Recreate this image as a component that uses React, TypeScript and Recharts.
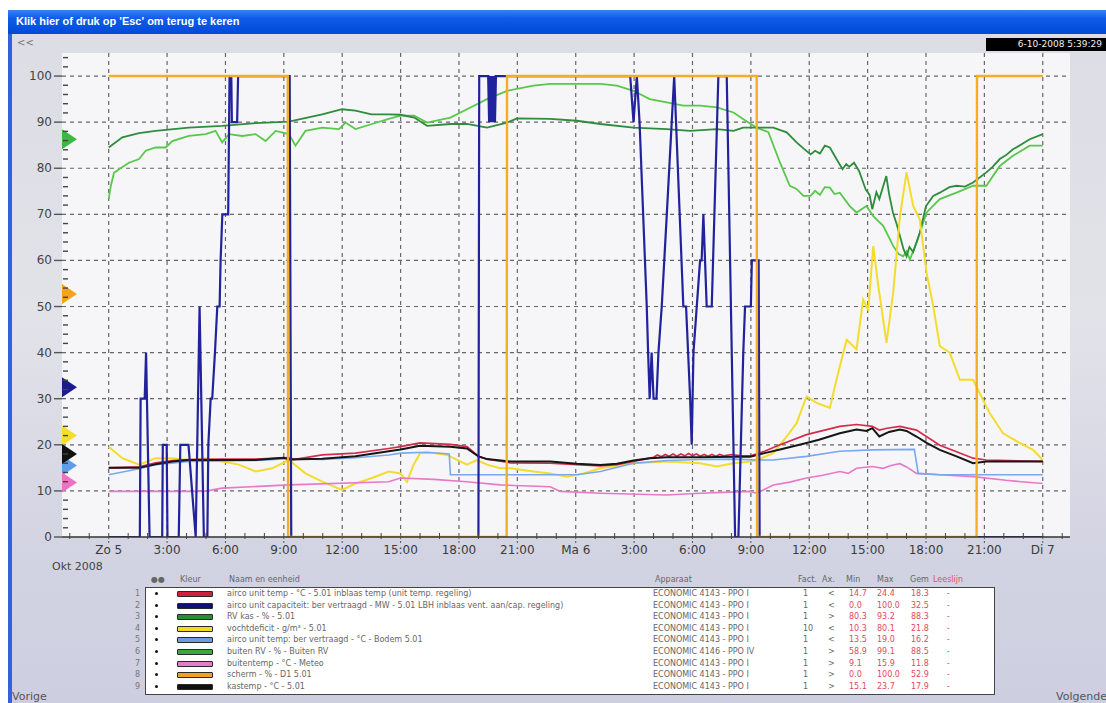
import { CartesianGrid, Line, LineChart, ReferenceDot, XAxis, YAxis } from "recharts"

// time in hours from "Zo 5" 0:00, value in axis units
const aircoTemp = [
  [0, 15.0], [1.56, 15.2], [2.41, 16.1], [3.27, 16.6], [4.12, 16.8], [5.83, 16.9], [7.55, 16.9],
  [9.26, 17.2], [9.5, 16.8], [10.97, 17.8], [12.68, 18.2], [14.39, 19.2], [15.0, 19.6], [15.99, 20.4],
  [17.56, 20.1], [18.41, 19.6], [19.0, 17.5], [19.44, 16.9], [20.63, 16.1], [22.69, 16.0], [24.06, 15.7],
  [25.26, 15.4], [26.11, 15.7], [26.97, 16.4], [27.8, 17.1], [28.0, 17.3], [28.2, 17.8], [28.4, 17.4],
  [28.6, 17.9], [28.8, 17.5], [29.0, 18.0], [29.2, 17.5], [29.4, 18.0], [29.6, 17.6], [29.8, 18.1],
  [30.0, 17.6], [30.2, 18.0], [30.4, 17.5], [30.6, 17.9], [30.8, 17.5], [31.0, 17.9], [31.2, 17.5],
  [31.4, 17.9], [31.6, 17.6], [32.0, 17.9], [32.5, 17.6], [33.0, 17.6], [33.7, 18.6],
  [34.5, 20.0], [35.86, 22.2], [37.57, 24.0], [38.43, 24.4], [39.24, 24.0], [39.6, 23.2], [40.0, 23.6],
  [40.66, 24.0], [41.51, 23.2], [42.71, 19.9], [43.57, 18.5], [44.42, 17.1], [45.1, 16.7], [48.0, 16.4],
]

const aircoCap = [
  [0, 0], [1.6, 0], [1.64, 30], [1.85, 30], [1.92, 40], [2.1, 0], [2.75, 0], [2.78, 20], [2.98, 20],
  [3.02, 0], [3.6, 0], [3.68, 20], [4.1, 20], [4.47, 0], [4.67, 50], [4.89, 0], [5.07, 0], [5.12, 20],
  [5.24, 30], [5.32, 30], [5.46, 40], [5.58, 50], [5.7, 50], [5.75, 60], [5.84, 70], [6.14, 70],
  [6.21, 100], [6.3, 100], [6.33, 90], [6.6, 90], [6.65, 100], [9.3, 100], [9.38, 0], [19.0, 0],
  [19.04, 100], [19.5, 100], [19.55, 90], [19.6, 100], [19.65, 90], [19.7, 100], [19.75, 90],
  [19.8, 100], [19.85, 90], [19.9, 100], [26.8, 100], [26.97, 90], [27.14, 100], [27.28, 90],
  [27.65, 50], [27.72, 40], [27.8, 30], [27.9, 40], [28.0, 30], [28.15, 30], [28.25, 40], [28.42, 50],
  [28.68, 70], [29.06, 100], [29.53, 50], [29.67, 50], [29.88, 30], [29.96, 20], [30.05, 40],
  [30.39, 60], [30.47, 60], [30.56, 70], [30.73, 50], [30.99, 50], [31.33, 100], [31.76, 100],
  [32.19, 0], [32.36, 0], [32.61, 40], [32.7, 50], [33.0, 50], [33.05, 60], [33.4, 60], [33.45, 0],
  [48.0, 0],
]

const rvKas = [
  [0, 84.5], [0.7, 86.7], [1.56, 87.6], [2.41, 88.1], [4.12, 88.8], [5.83, 89.2], [7.55, 89.8],
  [9.26, 90.1], [10.97, 91.7], [12.0, 92.8], [12.68, 92.5], [13.5, 91.7], [14.39, 91.7], [15.0, 91.6],
  [15.7, 91.0], [16.36, 89.2], [17.56, 89.6], [18.41, 89.6], [19.44, 88.8], [20.47, 89.9], [20.98, 90.8],
  [22.69, 90.7], [24.06, 90.3], [25.26, 89.6], [26.97, 88.8], [28.68, 88.5], [29.88, 88.1], [31.25, 88.5],
  [32.11, 88.1], [32.6, 88.8], [33.3, 88.8], [34.15, 88.8], [34.84, 87.8], [35.35, 85.6], [35.7, 84.3],
  [36.07, 83.0], [36.3, 83.8], [36.55, 83.2], [36.8, 84.9], [37.06, 84.5], [37.4, 82.0], [37.71, 79.8],
  [37.9, 80.9], [38.05, 80.3], [38.3, 81.2], [38.56, 79.4], [38.9, 75.4], [39.1, 74.2], [39.24, 71.1],
  [39.45, 74.8], [39.6, 73.3], [39.96, 78.3], [40.1, 74.5], [40.3, 70.4], [40.5, 67.8], [40.66, 65.3],
  [40.85, 62.4], [41.0, 60.9], [41.15, 62.9], [41.34, 61.8], [41.68, 66.0], [42.0, 71.8], [42.37, 74.0],
  [42.71, 74.7], [43.2, 75.9], [43.57, 76.2], [44.0, 76.0], [44.42, 76.9], [45.1, 79.1], [45.4, 80.2],
  [45.79, 82.0], [46.1, 82.8], [46.47, 84.1], [47.0, 85.4], [47.33, 86.3], [48.0, 87.4],
]

const vochtdeficit = [
  [0, 19.6], [0.7, 17.1], [1.56, 15.7], [2.41, 17.1], [3.27, 17.1], [4.12, 16.7], [4.98, 17.1],
  [5.83, 16.4], [6.69, 15.7], [7.55, 14.2], [8.4, 14.9], [9.26, 16.7], [10.11, 13.8], [10.97, 12.0],
  [11.99, 10.2], [12.68, 11.6], [13.53, 12.8], [14.39, 14.2], [14.99, 13.8], [15.33, 12.0], [15.67, 15.7],
  [16.01, 18.2], [16.7, 18.2], [17.38, 17.8], [17.72, 17.1], [18.41, 15.7], [18.92, 16.7], [19.44, 15.7],
  [20.12, 14.9], [20.63, 14.9], [21.83, 14.2], [22.69, 13.8], [23.55, 13.1], [24.41, 13.8], [25.26, 14.9],
  [26.97, 16.0], [28.68, 16.4], [30.39, 16.0], [31.25, 15.3], [32.11, 16.0], [32.96, 16.4], [33.3, 16.7],
  [34.15, 18.2], [34.84, 21.8], [35.35, 24.7], [35.86, 30.5], [36.38, 29.1], [37.06, 28.0], [37.4, 34.1],
  [37.92, 42.8], [38.43, 40.7], [38.77, 51.5], [39.03, 49.3], [39.29, 63.1], [39.55, 54.4], [39.97, 42.1],
  [40.32, 53.3], [40.66, 69.6], [41.0, 79.1], [41.34, 71.8], [41.68, 68.9], [42.03, 57.3], [42.37, 50.1],
  [42.71, 41.4], [43.22, 40.0], [43.74, 34.1], [44.42, 34.1], [44.76, 31.2], [45.27, 26.9], [45.96, 22.5],
  [46.81, 20.4], [47.5, 18.9], [48.0, 16.7],
]

const bodemTemp = [
  [0, 13.5], [1.56, 14.8], [2.41, 15.7], [4.12, 16.4], [7.55, 16.6], [9.26, 17.0], [10.97, 16.8],
  [12.68, 17.2], [14.39, 17.8], [15.0, 18.2], [16.36, 18.4], [17.5, 18.0], [17.56, 13.5], [24.06, 13.5],
  [25.26, 14.2], [26.97, 16.0], [28.68, 16.6], [30.39, 16.8], [32.11, 16.9], [33.3, 16.7], [34.15, 16.7],
  [35.86, 17.5], [37.57, 18.6], [39.24, 18.9], [41.4, 19.0], [41.6, 13.8], [42.71, 13.5], [48.0, 13.5],
]

const buitenRv = [
  [0, 73.3], [0.1, 76.0], [0.27, 79.0], [0.53, 79.8], [1.04, 81.2], [1.56, 82.0], [1.9, 83.8],
  [2.41, 84.5], [2.93, 84.5], [3.27, 85.9], [4.12, 87.0], [4.98, 87.4], [5.49, 88.1], [5.83, 85.6],
  [6.18, 87.4], [6.86, 87.0], [7.55, 87.4], [8.06, 85.9], [8.58, 88.1], [9.26, 87.4], [9.6, 84.9],
  [10.11, 88.1], [10.97, 88.8], [11.83, 88.5], [12.17, 89.9], [12.68, 88.5], [13.53, 89.6], [14.39, 90.7],
  [15.0, 91.4], [15.7, 91.4], [16.36, 89.9], [17.56, 91.0], [18.41, 92.8], [19.44, 95.0], [20.47, 96.8],
  [21.83, 97.9], [22.69, 98.3], [24.06, 98.3], [25.26, 98.3], [26.11, 97.9], [26.97, 96.8], [27.8, 95.0],
  [28.68, 94.3], [29.53, 93.6], [30.39, 93.6], [31.25, 93.2], [32.11, 92.1], [32.6, 90.7], [33.3, 88.8],
  [33.9, 87.8], [34.5, 81.2], [35.0, 76.2], [35.35, 75.5], [35.7, 74.0], [36.07, 74.0], [36.3, 75.1],
  [36.55, 74.2], [36.8, 75.9], [37.06, 75.8], [37.3, 74.4], [37.57, 74.7], [38.08, 71.8], [38.43, 70.4],
  [38.94, 71.8], [39.29, 69.6], [39.8, 67.5], [40.32, 63.1], [40.6, 61.4], [40.83, 60.9], [41.0, 62.0],
  [41.17, 60.2], [41.51, 63.8], [42.03, 70.4], [42.71, 73.3], [43.57, 74.7], [44.42, 76.2], [45.1, 76.2],
  [45.79, 80.5], [46.47, 82.7], [47.33, 84.9], [48.0, 84.9],
]

const buitenTemp = [
  [0, 9.9], [4.9, 9.9], [5.83, 10.6], [9.26, 11.3], [14.39, 12.0], [15.0, 12.8], [16.7, 12.5],
  [18.41, 12.0], [20.12, 11.3], [22.69, 10.9], [23.2, 9.9], [25.26, 9.5], [28.68, 9.1], [30.39, 9.5],
  [32.96, 9.9], [33.3, 9.5], [34.15, 11.3], [35.0, 11.9], [35.86, 12.8], [36.7, 13.4], [37.57, 14.2],
  [38.0, 13.8], [38.43, 14.9], [39.24, 15.3], [39.8, 14.9], [40.2, 15.5], [40.66, 15.9], [41.0, 15.2],
  [41.51, 13.8], [42.71, 13.5], [44.42, 13.1], [46.1, 12.3], [48.0, 11.6],
]

const scherm = [
  [0, 100], [9.2, 100], [9.22, 0], [20.45, 0], [20.47, 100], [33.3, 100], [33.32, 0],
  [44.6, 0], [44.62, 100], [48.0, 100],
]

const kasTemp = [
  [0, 15.0], [1.56, 15.0], [2.41, 15.8], [3.27, 16.4], [4.12, 16.7], [7.55, 16.7], [9.0, 17.2],
  [9.3, 16.8], [10.97, 17.0], [12.68, 17.5], [14.39, 18.6], [15.0, 19.0], [15.99, 19.8], [17.56, 19.6],
  [18.41, 19.2], [19.0, 17.5], [19.44, 16.9], [20.63, 16.4], [22.69, 16.4], [24.06, 15.9], [25.26, 15.6],
  [26.11, 15.9], [26.97, 16.6], [27.8, 17.1], [28.68, 17.3], [30.39, 17.3], [32.11, 17.4], [32.96, 17.4],
  [33.7, 18.2], [34.5, 19.0], [35.86, 20.4], [36.5, 21.1], [37.57, 22.5], [38.43, 23.3], [38.94, 23.0],
  [39.24, 23.6], [39.6, 21.8], [40.1, 22.8], [40.66, 23.3], [41.0, 23.0], [41.51, 21.8], [42.03, 20.4],
  [42.71, 18.9], [43.57, 17.5], [44.42, 16.0], [45.1, 16.4], [48.0, 16.4],
]

const majorHours = [0, 3, 6, 9, 12, 15, 18, 21, 24, 27, 30, 33, 36, 39, 42, 45, 48]
const majorLabels = [
  "Zo 5", "3:00", "6:00", "9:00", "12:00", "15:00", "18:00", "21:00", "Ma 6",
  "3:00", "6:00", "9:00", "12:00", "15:00", "18:00", "21:00", "Di 7",
]
const hourTicks = Array.from({ length: 52 }, (_, i) => i - 2)
const valueTicks = Array.from({ length: 53 }, (_, i) => i * 2)
const gridValues = [10, 20, 30, 40, 50, 60, 70, 80, 90, 100]

// current value markers at the left edge
const markerValues = [22, 15.5, 18, 11.8, 32.5, 52.7, 86.3]
const markerColors = ["#f4de2a", "#5f9de6", "#111111", "#ec72c4", "#1c1c8e", "#f2a41c", "#3cb846"]

const legendNames = [
  "airco unit temp - °C - 5.01 inblaas temp (unit temp. regeling)",
  "airco unit capaciteit: ber vertraagd - MW - 5.01 LBH inblaas vent. aan/cap. regeling)",
  "RV kas - % - 5.01",
  "vochtdeficit - g/m³ - 5.01",
  "airco unit temp: ber vertraagd - °C - Bodem 5.01",
  "buiten RV - % - Buiten RV",
  "buitentemp - °C - Meteo",
  "scherm - % - D1 5.01",
  "kastemp - °C - 5.01",
]
const legendColors = ["#d0203e", "#10107a", "#2a8c34", "#f2dc20", "#6c9be0", "#3aa83a", "#e47cc8", "#f0a224", "#111111"]
const legendDevices = [
  "ECONOMIC 4143 - PPO I", "ECONOMIC 4143 - PPO I", "ECONOMIC 4143 - PPO I",
  "ECONOMIC 4143 - PPO I", "ECONOMIC 4143 - PPO I", "ECONOMIC 4146 - PPO IV",
  "ECONOMIC 4143 - PPO I", "ECONOMIC 4143 - PPO I", "ECONOMIC 4143 - PPO I",
]
const legendFact = ["1", "1", "1", "10", "1", "1", "1", "1", "1"]
const legendAx = ["<", "<", ">", "<", "<", ">", ">", ">", ">"]
const legendMin = ["14.7", "0.0", "80.3", "10.3", "13.5", "58.9", "9.1", "0.0", "15.1"]
const legendMax = ["24.4", "100.0", "93.2", "80.1", "19.0", "99.1", "15.9", "100.0", "23.7"]
const legendAvg = ["18.3", "32.5", "88.3", "21.8", "16.2", "88.5", "11.8", "52.9", "17.9"]

const toPts = (arr: number[][]) => arr.map(([h, v]) => ({ h, v }))

const lines = [
  { name: "buiten RV", data: buitenRv, color: "#58c84a", width: 1.8 },
  { name: "RV kas", data: rvKas, color: "#2e8c3c", width: 1.8 },
  { name: "vochtdeficit", data: vochtdeficit, color: "#f4dc2e", width: 2 },
  { name: "buitentemp", data: buitenTemp, color: "#e878c8", width: 1.6 },
  { name: "bodem", data: bodemTemp, color: "#78a8f0", width: 1.6 },
  { name: "airco temp", data: aircoTemp, color: "#d62a4c", width: 1.7 },
  { name: "kastemp", data: kasTemp, color: "#161616", width: 2 },
  { name: "capaciteit", data: aircoCap, color: "#22229c", width: 2.2 },
  { name: "scherm", data: scherm, color: "#f5ae24", width: 2.4 },
]

const font = '"DejaVu Sans", Verdana, sans-serif'

const XTick = (props: any) => {
  const { x, y, payload } = props
  const i = majorHours.indexOf(payload.value)
  if (i < 0) return <line x1={x} x2={x} y1={y - 4} y2={y + 2} stroke="#444" />
  return (
    <g>
      <line x1={x} x2={x} y1={y} y2={y + 6} stroke="#555" strokeDasharray="2 2" />
      <text x={x} y={y + 17} textAnchor="middle" fontSize={12} fontFamily={font} fill="#3a3a3a">
        {majorLabels[i]}
      </text>
    </g>
  )
}

const YTick = (props: any) => {
  const { x, y, payload } = props
  const v = payload.value
  if (v % 10 !== 0) return <line x1={x + 1} x2={x + 6} y1={y} y2={y} stroke="#444" strokeWidth={1.4} />
  return (
    <g>
      <line x1={x - 8} x2={x} y1={y} y2={y} stroke="#555" strokeWidth={1.4} />
      <text x={x - 10} y={y + 4} textAnchor="end" fontSize={12} fontFamily={font} fill="#444">
        {v}
      </text>
    </g>
  )
}

const Marker = (color: string) => (p: any) => (
  <path d={`M${p.cx},${p.cy - 10} L${p.cx + 15},${p.cy} L${p.cx},${p.cy + 10} Z`} fill={color} />
)

const legendCols = { fact: 803, ax: 828, min: 849, max: 877, avg: 911, line: 947 }

export default function App() {
  return (
    <div
      style={{
        position: "absolute",
        left: 0,
        top: 0,
        width: 1106,
        height: 703,
        overflow: "hidden",
        background: "#ffffff",
        fontFamily: font,
      }}
    >
      <div
        style={{
          position: "absolute",
          left: 8,
          top: 10,
          width: 1098,
          height: 693,
          background: "linear-gradient(180deg, #dcdce4 0%, #e2e2e9 45%, #d2d3e2 80%, #cdcee0 100%)",
        }}
      />
      <div style={{ position: "absolute", left: 8, top: 10, width: 4, height: 693, background: "#2f62dc" }} />
      <div
        style={{
          position: "absolute",
          left: 8,
          top: 10,
          width: 1098,
          height: 24,
          background: "linear-gradient(180deg, #3b80f4 0%, #0f5ce8 35%, #0049d6 100%)",
        }}
      />
      <div
        style={{
          position: "absolute",
          left: 16,
          top: 15,
          color: "#fff",
          fontFamily: '"Liberation Sans", Arial, sans-serif',
          fontWeight: "bold",
          fontSize: 11,
        }}
      >
        Klik hier of druk op 'Esc' om terug te keren
      </div>
      <div style={{ position: "absolute", left: 17, top: 37, fontSize: 10, color: "#777" }}>{"<<"}</div>
      <div
        style={{
          position: "absolute",
          left: 986,
          top: 38,
          width: 120,
          height: 13,
          background: "#000",
          color: "#eee",
          fontSize: 9,
          lineHeight: "13px",
          textAlign: "right",
          paddingRight: 4,
          boxSizing: "border-box",
        }}
      >
        6-10-2008 5:39:29
      </div>

      <div style={{ position: "absolute", left: 0, top: 0 }}>
        <LineChart width={1106} height={600} margin={{ top: 53, right: 36, bottom: 0, left: 0 }}>
          <CartesianGrid
            fill="#f6f6f8"
            stroke="#666"
            strokeWidth={1.2}
            strokeDasharray="4 4"
            horizontalValues={gridValues}
            verticalValues={majorHours}
          />
          <XAxis
            dataKey="h"
            type="number"
            domain={[-2.4, 49.4]}
            allowDataOverflow
            ticks={hourTicks}
            interval={0}
            tickSize={0}
            tickMargin={0}
            tick={<XTick />}
            height={63}
            axisLine={{ stroke: "#333", strokeWidth: 1.5 }}
          />
          <XAxis
            xAxisId="top"
            orientation="top"
            dataKey="h"
            type="number"
            domain={[-2.4, 49.4]}
            allowDataOverflow
            ticks={majorHours}
            interval={0}
            tick={false}
            tickSize={4}
            height={0}
            stroke="#444"
            axisLine={{ stroke: "#444", strokeWidth: 1.5 }}
          />
          <YAxis
            domain={[0, 105]}
            allowDataOverflow
            ticks={valueTicks}
            interval={0}
            tickSize={0}
            tickMargin={0}
            tick={<YTick />}
            width={62}
            axisLine={false}
          />
          <YAxis
            yAxisId="r"
            orientation="right"
            domain={[0, 105]}
            width={0}
            tick={false}
            tickLine={false}
            axisLine={{ stroke: "#444", strokeWidth: 1.5 }}
          />
          {lines.map((s) => (
            <Line
              key={s.name}
              data={toPts(s.data)}
              dataKey="v"
              type="linear"
              stroke={s.color}
              strokeWidth={s.width}
              dot={false}
              activeDot={false}
              isAnimationActive={false}
            />
          ))}
          {markerValues.map((v, i) => (
            <ReferenceDot key={i} x={-2.4} y={v} r={8} ifOverflow="visible" shape={Marker(markerColors[i])} />
          ))}
        </LineChart>
      </div>

      <div style={{ position: "absolute", left: 52, top: 560, fontSize: 11, color: "#444" }}>Okt 2008</div>

      {/* legend table header */}
      {[
        ["●●", 151],
        ["Kleur", 180],
        ["Naam en eenheid", 229],
        ["Apparaat", 655],
        ["Fact.", 798],
        ["Ax.", 822],
        ["Min", 846],
        ["Max", 877],
        ["Gem", 910],
      ].map(([t, x]) => (
        <div key={t as string} style={{ position: "absolute", left: x as number, top: 575, fontSize: 8, color: "#666" }}>
          {t}
        </div>
      ))}
      <div style={{ position: "absolute", left: 933, top: 575, fontSize: 8, color: "#e05060" }}>Leeslijn</div>

      <div
        style={{
          position: "absolute",
          left: 145,
          top: 587,
          width: 850,
          height: 108,
          background: "#fff",
          border: "1px solid #444",
          boxSizing: "border-box",
        }}
      />
      {legendNames.map((name, i) => {
        const top = 588 + i * 11.6
        const cell = (left: number, text: string, color: string) => (
          <div style={{ position: "absolute", left, top, fontSize: 8, lineHeight: "11px", color, whiteSpace: "nowrap" }}>
            {text}
          </div>
        )
        return (
          <div key={name}>
            {cell(135, String(i + 1), "#777")}
            <div style={{ position: "absolute", left: 155, top: top + 4, width: 3, height: 3, borderRadius: 2, background: "#111" }} />
            <div
              style={{
                position: "absolute",
                left: 177,
                top: top + 3,
                width: 36,
                height: 6,
                background: legendColors[i],
                border: "1px solid #2a2a2a",
                borderRadius: 1,
                boxSizing: "border-box",
              }}
            />
            {cell(227, name, "#666")}
            {cell(653, legendDevices[i], "#666")}
            {cell(legendCols.fact, legendFact[i], "#666")}
            {cell(legendCols.ax, legendAx[i], "#666")}
            {cell(legendCols.min, legendMin[i], "#e04a5c")}
            {cell(legendCols.max, legendMax[i], "#e04a5c")}
            {cell(legendCols.avg, legendAvg[i], "#e04a5c")}
            {cell(legendCols.line, "-", "#e04a5c")}
          </div>
        )
      })}

      <div style={{ position: "absolute", left: 12, top: 690, fontSize: 11, color: "#555" }}>Vorige</div>
      <div style={{ position: "absolute", left: 1056, top: 690, fontSize: 11, color: "#555" }}>Volgende</div>
    </div>
  )
}
